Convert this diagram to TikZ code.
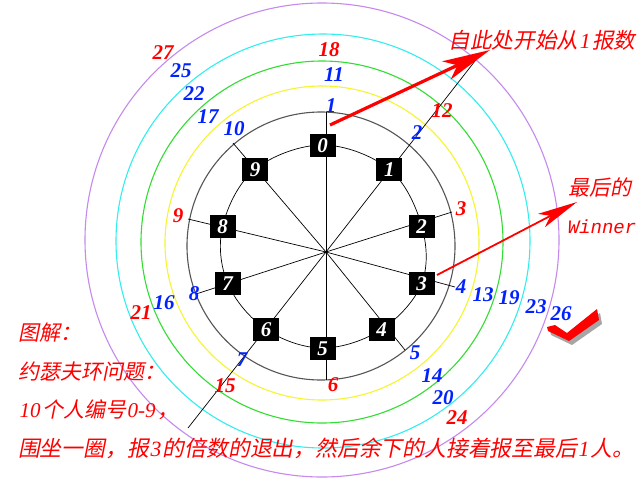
\documentclass[tikz,border=0pt]{standalone}
\usepackage{fontspec}
\setmainfont{Liberation Serif}
\newfontfamily\cjk[FakeSlant=0.2]{Noto Sans CJK SC}
\newfontfamily\monof{Liberation Mono}
\usetikzlibrary{arrows.meta}
\definecolor{ringgray}{HTML}{555555}
\definecolor{ringyellow}{HTML}{F5F530}
\definecolor{ringgreen}{HTML}{33DD33}
\definecolor{ringcyan}{HTML}{33EEEE}
\definecolor{ringpurple}{HTML}{C58AEE}
\definecolor{numblue}{HTML}{0022FF}
\definecolor{numred}{HTML}{FF0000}
\tikzset{
  ring/.style={line width=1.1pt},
  spoke/.style={black, line width=0.7pt},
  person/.style={fill=black, text=white, inner sep=0pt, minimum width=26pt, minimum height=23pt,
    font=\fontsize{21}{21}\selectfont\bfseries\itshape, text height=14.5pt, text depth=0pt},
  numlab/.style={inner sep=0pt, font=\fontsize{21}{21}\selectfont\bfseries\itshape, text height=14.5pt, text depth=0pt},
  bl/.style={numlab, text=numblue},
  rd/.style={numlab, text=numred},
  note/.style={inner sep=0pt, text=numred, font=\fontsize{21}{21}\selectfont\cjk},
}
\newcommand{\dg}[1]{\kern1.5pt{\rmfamily\itshape #1}\kern1.5pt}
\begin{document}
\begin{tikzpicture}[x=1pt,y=-1pt]
\fill[white] (0,0) rectangle (640,480);
\useasboundingbox (0,0) rectangle (640,480);
\clip (0,0) rectangle (640,480);
% rings
\draw[ring, ringpurple] (322,240) circle[radius=237pt];
\draw[ring, ringcyan] (323,241) circle[radius=207pt];
\draw[ring, ringgreen] (322,242) circle[radius=181pt];
\draw[ring, ringyellow] (322,243) circle[radius=157pt];
\draw[ring, ringgray] (321,246) circle[radius=134pt];
% spokes
\coordinate (c) at (326,252);
\coordinate (e0) at (326,112);
\coordinate (e1) at (482,52);
\coordinate (e2) at (452,212);
\coordinate (e3) at (455,287);
\coordinate (e4) at (405,350);
\coordinate (e5) at (326,380);
\coordinate (e6) at (188,428);
\coordinate (e7) at (196,294);
\coordinate (e8) at (188,219);
\coordinate (e9) at (233,143);
\foreach \i in {0,...,9} \draw[spoke] (c) -- (e\i);
% inner ring through persons
\draw[spoke] plot[smooth cycle, tension=0.6] coordinates {(322.5,145) (389.3,169.3) (421.7,226) (421.7,283.3) (381.7,329.3) (322.7,348) (266,329.3) (227.7,283.3) (222.7,226) (255,169.3)};
% persons
\node[person] (b0) at (322.5,145) {0};
\node[person] (b1) at (389.3,169.3) {1};
\node[person] (b2) at (421.7,226) {2};
\node[person] (b3) at (421.7,283.3) {3};
\node[person] (b4) at (381.7,329.3) {4};
\node[person] (b5) at (322.7,348) {5};
\node[person] (b6) at (266,329.3) {6};
\node[person] (b7) at (227.7,283.3) {7};
\node[person] (b8) at (222.7,226) {8};
\node[person] (b9) at (255,169.3) {9};
% count labels
\node[rd] (n18) at (329,49) {18};
\node[bl] (n11) at (334,74) {11};
\node[bl] (n1) at (331,105) {1};
\node[rd] (n27) at (163,52) {27};
\node[bl] (n25) at (181,70) {25};
\node[bl] (n22) at (194,93) {22};
\node[bl] (n17) at (208,116) {17};
\node[bl] (n10) at (234,128) {10};
\node[bl] (n2) at (417,132) {2};
\node[rd] (n12) at (442,110) {12};
\node[rd] (n3) at (461,208) {3};
\node[rd] (n9) at (178,215) {9};
\node[bl] (n4) at (461,286) {4};
\node[bl] (n13) at (483,294) {13};
\node[bl] (n19) at (509,297) {19};
\node[bl] (n23) at (536,306) {23};
\node[bl] (n26) at (561,313) {26};
\node[bl] (n16) at (164,302) {16};
\node[rd] (n21) at (141,312) {21};
\node[bl] (n8) at (194,293) {8};
\node[bl] (n7) at (242,359) {7};
\node[rd] (n15) at (225,385) {15};
\node[bl] (n5) at (415,352) {5};
\node[rd] (n6) at (333,384) {6};
\node[bl] (n14) at (432,375) {14};
\node[bl] (n20) at (443,397) {20};
\node[rd] (n24) at (457,417) {24};
% notes
\node[note, font=\fontsize{21.6}{22}\selectfont\cjk] (start) at (542,40) {自此处开始从\dg{1}报数};
\node[note] (last) at (600,187) {最后的};
\node[note, font=\fontsize{19}{19}\selectfont\monof\itshape] (win) at (602,227) {Winner};
\node[note, anchor=west] (t1) at (18,333) {图解：};
\node[note, anchor=west] (t2) at (18,372) {约瑟夫环问题：};
\node[note, anchor=west] (t3) at (18,410) {\dg{10}个人编号\dg{0-9}，};
\node[note, anchor=west, font=\fontsize{21.8}{22}\selectfont\cjk] (t4) at (18,448) {围坐一圈，报\dg{3}的倍数的退出，然后余下的人接着报至最后\dg{1}人。};
% arrows
\coordinate (a1s) at (330,125);
\coordinate (a1e) at (490,50);
\draw[numred, line width=3.2pt, -{Stealth[length=48pt,width=20pt,inset=12pt]}] (a1s) -- (a1e);
\coordinate (a2s) at (437,275);
\coordinate (a2e) at (577,202);
\draw[numred, line width=1.8pt, -{Stealth[length=40pt,width=15pt,inset=10pt]}] (a2s) -- (a2e);
% check mark
\fill[black, opacity=0.35] (550,331) -- (558,329) -- (570,337) -- (600,313) -- (602,324) -- (572,345) -- (551,335) -- cycle;
\fill[numred] (547,327) -- (555,325) -- (567,333) -- (597,309) -- (599,320) -- (569,341) -- (548,331) -- cycle;
\end{tikzpicture}
\end{document}
